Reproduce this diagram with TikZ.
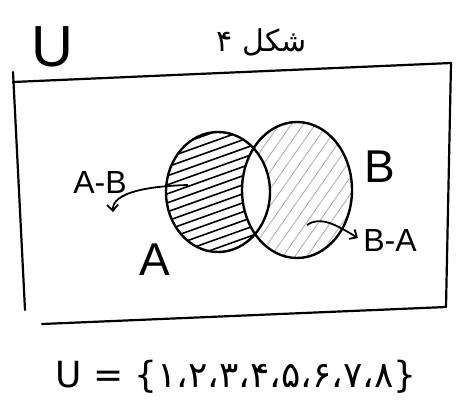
\documentclass[tikz,border=0pt]{standalone}
\usepackage{fontspec}
\setmainfont{Liberation Sans}
\newfontfamily\arabicfont[Script=Arabic]{DejaVu Sans}
\newfontfamily\plainfont{DejaVu Sans}
\TeXXeTstate=1
\usetikzlibrary{arrows.meta}
\begin{document}
\begin{tikzpicture}[x=1pt,y=-1pt,
  edge/.style={line width=2.2pt, line cap=round, line join=round},
  setline/.style={line width=2.4pt},
  lbl/.style={inner sep=0pt, font=\fontsize{32}{32}\selectfont},
  biglbl/.style={inner sep=0pt, font=\fontsize{46}{46}\selectfont},
  hatchA/.style={line width=1.6pt, line cap=round},
  hatchB/.style={line width=1pt, gray!55},
  arr/.style={line width=1.8pt, -{Straight Barb[length=6pt,width=11pt]}}
]
\useasboundingbox (0,0) rectangle (462,416);
\fill[white] (0,0) rectangle (462,416);

% frame
\coordinate (lt) at (13,72);
\coordinate (tl) at (13,82);
\coordinate (tr) at (451,63);
\coordinate (br) at (446,307);
\coordinate (bl) at (42,324);
\coordinate (lb) at (25,310);
\draw[edge] (tl) -- (tr);
\draw[edge] (tr) -- (br);
\draw[edge] (br) -- (bl);
\draw[edge] (lt) -- (lb);

% hatching A
\begin{scope}
\clip (218,192) ellipse [x radius=52, y radius=60];
\foreach \k in {0,...,22} \draw[hatchA] (150,{128+9*\k}) -- ++(140,-50);
\end{scope}
% hatching B
\begin{scope}
\clip (297,190) ellipse [x radius=55, y radius=68];
\foreach \k in {0,...,20} \draw[hatchB] ({140+12*\k},272) -- ++(105,-150);
\end{scope}
% clear intersection
\begin{scope}
\clip (218,192) ellipse [x radius=52, y radius=60];
\fill[white] (297,190) ellipse [x radius=55, y radius=68];
\end{scope}

% sets
\draw[setline] (218,192) ellipse [x radius=52, y radius=60];
\draw[setline] (297,190) ellipse [x radius=55, y radius=68];

% labels
\node[inner sep=0pt, font=\fontsize{58}{58}\selectfont] (U) at (52,47) {U};
\node[inner sep=0pt, font=\arabicfont\fontsize{30}{30}\selectfont] (title) at (262,42) {\beginR شکل ۴\endR};
\node[biglbl] (A) at (155,260) {A};
\node[biglbl] (B) at (380,167) {B};
\node[lbl] (AB) at (100,182) {A-B};
\node[lbl] (BA) at (390,240) {B-A};

% arrows
\coordinate (abS) at (188,185);
\coordinate (abE) at (113,212);
\draw[arr] (abS) .. controls (150,186) and (112,192) .. (abE);
\coordinate (baS) at (307,225);
\coordinate (baE) at (358,238);
\draw[arr] (baS) .. controls (320,216) and (335,224) .. (baE);

% universe
\node[inner sep=0pt, font=\plainfont\fontsize{36}{36}\selectfont] (set) at (236,377)
  {U = \{{\arabicfont\mbox{۱}\mbox{،}\mbox{۲}\mbox{،}\mbox{۳}\mbox{،}\mbox{۴}\mbox{،}\mbox{۵}\mbox{،}\mbox{۶}\mbox{،}\mbox{۷}\mbox{،}\mbox{۸}}\}};
\end{tikzpicture}
\end{document}
